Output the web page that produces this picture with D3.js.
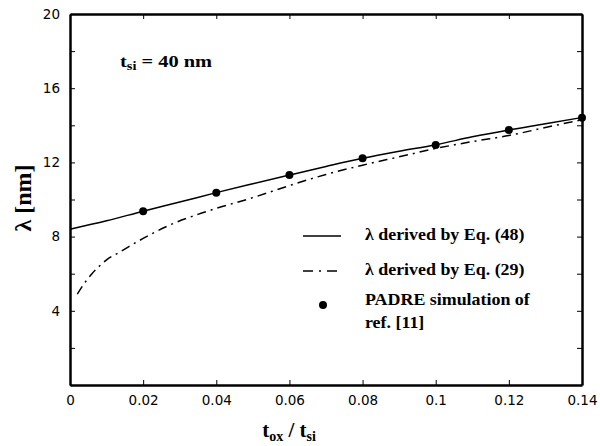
<!DOCTYPE html>
<html>
<head>
    <title>Lambda vs tox/tsi</title>
    <script src="https://d3js.org/d3.v7.min.js"></script>
    <style>
        body { margin: 0; background: #fff; }
        .tick text { font-family: "DejaVu Sans", sans-serif; font-size: 13.5px; }
    </style>
</head>
<body>
    <svg id="chart"></svg>

    <script>
        // Eq. (48), solid curve
        const eq48X = [0, 0.01, 0.02, 0.03, 0.04, 0.05, 0.06, 0.07, 0.08, 0.09, 0.10, 0.11, 0.12, 0.13, 0.14];
        const eq48Y = [8.4, 8.85, 9.37, 9.86, 10.37, 10.85, 11.32, 11.78, 12.22, 12.6, 12.95, 13.38, 13.75, 14.08, 14.42];

        // Eq. (29), dash-dot curve
        const eq29X = [0.002, 0.004, 0.006, 0.008, 0.01, 0.013, 0.016, 0.02, 0.027, 0.035, 0.04, 0.05, 0.06, 0.07, 0.08, 0.09, 0.10, 0.11, 0.12, 0.13, 0.14];
        const eq29Y = [4.9, 5.5, 6.0, 6.4, 6.75, 7.1, 7.45, 7.9, 8.6, 9.2, 9.52, 10.1, 10.75, 11.35, 11.85, 12.3, 12.75, 13.12, 13.45, 13.88, 14.3];

        // PADRE simulation points
        const padreX = [0.02, 0.04, 0.06, 0.08, 0.10, 0.12, 0.14];
        const padreY = [9.37, 10.37, 11.32, 12.22, 12.94, 13.75, 14.41];

        const xTicks = [0, 0.02, 0.04, 0.06, 0.08, 0.1, 0.12, 0.14];
        const yTicks = [0, 2, 4, 6, 8, 10, 12, 14, 16, 18, 20];
        const yLabels = [4, 8, 12, 16, 20];

        const width = 600, height = 446;
        const margin = { top: 14, right: 18, bottom: 61, left: 70 };
        const serif = "'Liberation Serif', 'Times New Roman', serif";

        const svg = d3.select("#chart").attr("width", width).attr("height", height);

        const x = d3.scaleLinear().domain([0, 0.14]).range([margin.left, width - margin.right]);
        const y = d3.scaleLinear().domain([0, 20]).range([height - margin.bottom, margin.top]);

        const fmtX = d => d === 0 ? "0" : String(+d.toFixed(2));
        const fmtY = d => yLabels.includes(d) ? String(d) : "";

        // axes, ticks pointing inward
        svg.append("g")
            .attr("transform", `translate(0,${y(0)})`)
            .call(d3.axisBottom(x).tickValues(xTicks).tickFormat(fmtX).tickSizeInner(-5).tickSizeOuter(0).tickPadding(10));
        svg.append("g")
            .attr("transform", `translate(0,${y(20)})`)
            .call(d3.axisTop(x).tickValues(xTicks).tickFormat("").tickSizeInner(-5).tickSizeOuter(0));
        svg.append("g")
            .attr("transform", `translate(${x(0)},0)`)
            .call(d3.axisLeft(y).tickValues(yTicks).tickFormat(fmtY).tickSizeInner(-5).tickSizeOuter(0).tickPadding(10));
        svg.append("g")
            .attr("transform", `translate(${x(0.14)},0)`)
            .call(d3.axisRight(y).tickValues(yTicks).tickFormat("").tickSizeInner(-5).tickSizeOuter(0));

        svg.selectAll(".domain").attr("stroke", "#000").attr("stroke-width", 2.5);
        svg.selectAll(".tick line").attr("stroke", "#000").attr("stroke-width", 1);
        svg.selectAll(".tick text").attr("fill", "#000");

        const line = d3.line().x(d => x(d[0])).y(d => y(d[1])).curve(d3.curveMonotoneX);

        svg.append("path")
            .datum(d3.zip(eq48X, eq48Y))
            .attr("d", line)
            .attr("fill", "none").attr("stroke", "#000").attr("stroke-width", 1.5);

        svg.append("path")
            .datum(d3.zip(eq29X, eq29Y))
            .attr("d", line)
            .attr("fill", "none").attr("stroke", "#000").attr("stroke-width", 1.5)
            .attr("stroke-dasharray", "9,5,2,5");

        svg.append("g")
            .selectAll("circle")
            .data(d3.zip(padreX, padreY))
            .join("circle")
            .attr("cx", d => x(d[0]))
            .attr("cy", d => y(d[1]))
            .attr("r", 4)
            .attr("fill", "#000");

        // annotation t_si = 40 nm (the source text is a little stretched sideways)
        const ann = svg.append("text").attr("transform", "translate(120,67) scale(1.2,1)")
            .attr("font-family", serif).attr("font-weight", "bold").attr("font-size", 17);
        ann.append("tspan").text("t");
        ann.append("tspan").attr("font-size", 12).attr("dy", 3).text("si");
        ann.append("tspan").attr("dy", -3).text(" = 40 nm");

        // axis titles
        const xt = svg.append("text").attr("x", 289).attr("y", 437)
            .attr("font-family", serif).attr("font-weight", "bold")
            .attr("text-anchor", "middle").attr("font-size", 21);
        xt.append("tspan").text("t");
        xt.append("tspan").attr("font-size", 14).attr("dy", 4).text("ox");
        xt.append("tspan").attr("dy", -4).text(" / t");
        xt.append("tspan").attr("font-size", 14).attr("dy", 4).text("si");

        svg.append("text")
            .attr("font-family", serif).attr("font-weight", "bold")
            .attr("transform", "translate(31,198) rotate(-90)")
            .attr("text-anchor", "middle").attr("font-size", 24)
            .text("λ [nm]");

        // legend
        const lg = svg.append("g");
        lg.append("line").attr("x1", 303).attr("x2", 341).attr("y1", 236).attr("y2", 236)
            .attr("stroke", "#000").attr("stroke-width", 1.5);
        lg.append("line").attr("x1", 303).attr("x2", 341).attr("y1", 271).attr("y2", 271)
            .attr("stroke", "#000").attr("stroke-width", 1.5).attr("stroke-dasharray", "10,6,2,6");
        lg.append("circle").attr("cx", 323).attr("cy", 305).attr("r", 4).attr("fill", "#000");
        const legendText = [
            ["λ derived by Eq. (48)", 240],
            ["λ derived by Eq. (29)", 275],
            ["PADRE simulation of", 305],
            ["ref. [11]", 328]
        ];
        lg.selectAll("text.leg")
            .data(legendText)
            .join("text")
            .attr("class", "leg")
            .attr("font-family", serif).attr("font-weight", "bold")
            .attr("transform", d => `translate(365,${d[1]}) scale(1.12,1)`)
            .attr("font-size", 16)
            .text(d => d[0]);
    </script>
</body>
</html>
